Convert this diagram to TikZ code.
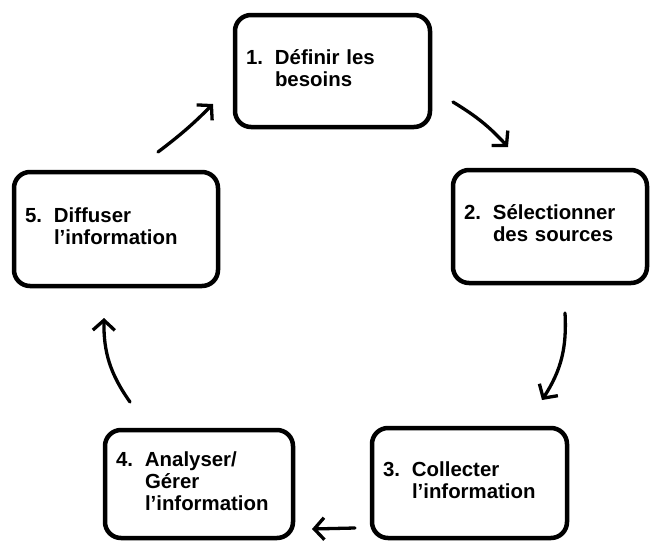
\documentclass[tikz,border=0pt]{standalone}
\usepackage{fontspec}
\setmainfont{Liberation Sans}
\usetikzlibrary{arrows.meta}
\begin{document}
\begin{tikzpicture}[x=1pt,y=-1pt]
\tikzset{
  stepbox/.style={draw=black, line width=4.5pt, rounded corners=16pt, fill=white,
    align=left, inner xsep=11pt, inner ysep=0pt,
    font=\fontsize{20.4}{21.7}\selectfont\bfseries},
  cyc/.style={line width=3.3pt, line cap=round,
    -{Straight Barb[length=10pt,width=22pt,line width=3.3pt]}}
}
\useasboundingbox[fill=white] (0,0) rectangle (651,541);

% the five steps of the cycle
\node[stepbox, text width=173pt, minimum height=112pt] (s1) at (332.5,71)
  {\begin{tabular}{@{}p{29pt}@{}l@{}}1. & Définir les\\ & besoins\end{tabular}};
\node[stepbox, text width=172pt, minimum height=113pt] (s2) at (550,226.5)
  {\begin{tabular}{@{}p{29pt}@{}l@{}}2. & Sélectionner\\ & des sources\end{tabular}};
\node[stepbox, text width=173pt, minimum height=110pt] (s3) at (469.5,483)
  {\begin{tabular}{@{}p{29pt}@{}l@{}}3. & Collecter\\ & l’information\end{tabular}};
\node[stepbox, text width=166pt, minimum height=108pt] (s4) at (199,484)
  {\begin{tabular}{@{}p{29pt}@{}l@{}}4. & Analyser/\\ & Gérer\\ & l’information\end{tabular}};
\node[stepbox, text width=182pt, minimum height=114pt] (s5) at (116,229)
  {\begin{tabular}{@{}p{29pt}@{}l@{}}5. & Diffuser\\ & l’information\end{tabular}};

% free ends of the arrows between the steps
\coordinate (t12) at (453,102);  \coordinate (h12) at (508,147);
\coordinate (t23) at (565,313);  \coordinate (h23) at (542,400);
\coordinate (t34) at (355,528);  \coordinate (h34) at (312,529);
\coordinate (t45) at (130,402);  \coordinate (h45) at (104,318);
\coordinate (t51) at (158,152);  \coordinate (h51) at (213,104);

\draw[cyc] (t12) to[bend left=8] (h12);
\draw[cyc] (t23) to[bend left=18] (h23);
\draw[cyc] (t34) -- (h34);
\draw[cyc] (t45) to[bend left=18] (h45);
\draw[cyc] (t51) to[bend right=4] (h51);
\end{tikzpicture}
\end{document}
